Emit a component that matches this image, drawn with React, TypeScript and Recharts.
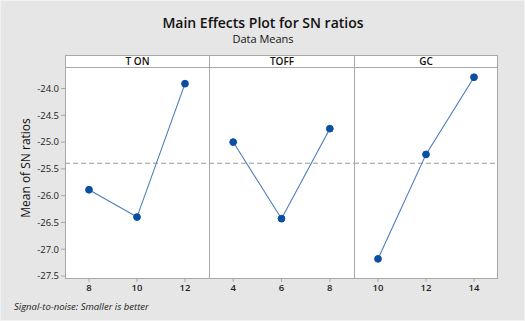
import React from "react";
import { LineChart, Line, XAxis, YAxis, ReferenceLine } from "recharts";

const panelTitles = ["T ON", "TOFF", "GC"];
const tonLevels = [8, 10, 12];
const tonMeans = [-25.89, -26.4, -23.91];
const toffLevels = [4, 6, 8];
const toffMeans = [-25.0, -26.43, -24.75];
const gcLevels = [10, 12, 14];
const gcMeans = [-27.18, -25.23, -23.79];
const overallMean = -25.395;
const yTicks = [-24.0, -24.5, -25.0, -25.5, -26.0, -26.5, -27.0, -27.5];
const yDomain = [-27.556, -23.58];

const FONT = "'Open Sans', 'Noto Sans', sans-serif";
const BORDER = "#a8a8a8";
const LINE = "#4a7bbd";
const DOT = "#0a4fa3";

const build = (levels: number[], means: number[]) =>
  levels.map((x, i) => ({ x, y: means[i] }));

const panels = [
  { data: build(tonLevels, tonMeans), domain: [7, 13], ticks: tonLevels },
  { data: build(toffLevels, toffMeans), domain: [3, 9], ticks: toffLevels },
  { data: build(gcLevels, gcMeans), domain: [9, 15], ticks: gcLevels },
];

const panelX = [64, 208, 353, 497];
const TOP = 65;
const BOTTOM = 278;

export default function App() {
  return (
    <div
      style={{
        position: "absolute",
        left: 0,
        top: 0,
        width: 525,
        height: 321,
        background: "#e6e6e6",
        boxSizing: "border-box",
        border: "1px solid #f2f2f2",
        fontFamily: FONT,
      }}
    >
      {panelTitles.map((t, i) => (
        <div
          key={t}
          style={{
            position: "absolute",
            left: panelX[i],
            top: 54,
            width: panelX[i + 1] - panelX[i],
            height: BOTTOM - 54,
            background: "#ffffff",
            boxSizing: "border-box",
            borderLeft: `1px solid ${BORDER}`,
            borderTop: `1px solid ${BORDER}`,
            borderBottom: `1px solid ${BORDER}`,
            borderRight: i === 2 ? `1px solid ${BORDER}` : "none",
          }}
        >
          <div
            style={{
              height: 11,
              borderBottom: `1px solid ${BORDER}`,
              fontSize: 10,
              fontWeight: 600,
              lineHeight: "11px",
              textAlign: "center",
              color: "#111",
            }}
          >
            {t}
          </div>
        </div>
      ))}

      {panels.map((p, i) => {
        const left = i === 0 ? 0 : panelX[i];
        const width = i === 0 ? panelX[1] : panelX[i + 1] - panelX[i];
        return (
          <div key={i} style={{ position: "absolute", left, top: TOP }}>
            <LineChart
              width={width}
              height={BOTTOM - TOP + 22}
              data={p.data}
              margin={{ top: 0, right: 0, bottom: 0, left: 0 }}
            >
              <XAxis
                dataKey="x"
                type="number"
                domain={p.domain}
                ticks={p.ticks}
                height={22}
                axisLine={false}
                tickSize={3}
                tickLine={{ stroke: BORDER }}
                tick={{ fontSize: 9.5, fontWeight: 600, fill: "#222", fontFamily: FONT }}
                interval={0}
              />
              <YAxis
                type="number"
                domain={yDomain}
                ticks={yTicks}
                allowDataOverflow
                hide={i !== 0}
                width={64}
                axisLine={false}
                tickSize={4}
                tickLine={{ stroke: BORDER }}
                tickFormatter={(v: number) => v.toFixed(1)}
                tick={{ fontSize: 9.5, fontWeight: 500, fill: "#222", fontFamily: FONT }}
                interval={0}
              />
              <ReferenceLine
                y={overallMean}
                stroke="#9a9a9a"
                strokeDasharray="5 3"
                strokeWidth={1}
              />
              <Line
                dataKey="y"
                stroke={LINE}
                strokeWidth={1.1}
                dot={{ r: 3.4, fill: DOT, stroke: DOT, strokeWidth: 1 }}
                isAnimationActive={false}
              />
            </LineChart>
          </div>
        );
      })}

      <svg
        width={525}
        height={321}
        style={{ position: "absolute", left: 0, top: 0, pointerEvents: "none" }}
      >
        <text
          x={262}
          y={27}
          textAnchor="middle"
          fontSize={14}
          fontWeight={600}
          fill="#111"
          fontFamily={FONT}
        >
          Main Effects Plot for SN ratios
        </text>
        <text
          x={262}
          y={42}
          textAnchor="middle"
          fontSize={11}
          fill="#111"
          fontFamily={FONT}
        >
          Data Means
        </text>
        <text
          x={29}
          y={167}
          textAnchor="middle"
          fontSize={12}
          fill="#111"
          fontFamily={FONT}
          transform="rotate(-90 29 167)"
        >
          Mean of SN ratios
        </text>
        <text
          x={13}
          y={309}
          fontSize={9.5}
          fontStyle="italic"
          fill="#222"
          fontFamily={FONT}
        >
          Signal-to-noise: Smaller is better
        </text>
      </svg>
    </div>
  );
}
